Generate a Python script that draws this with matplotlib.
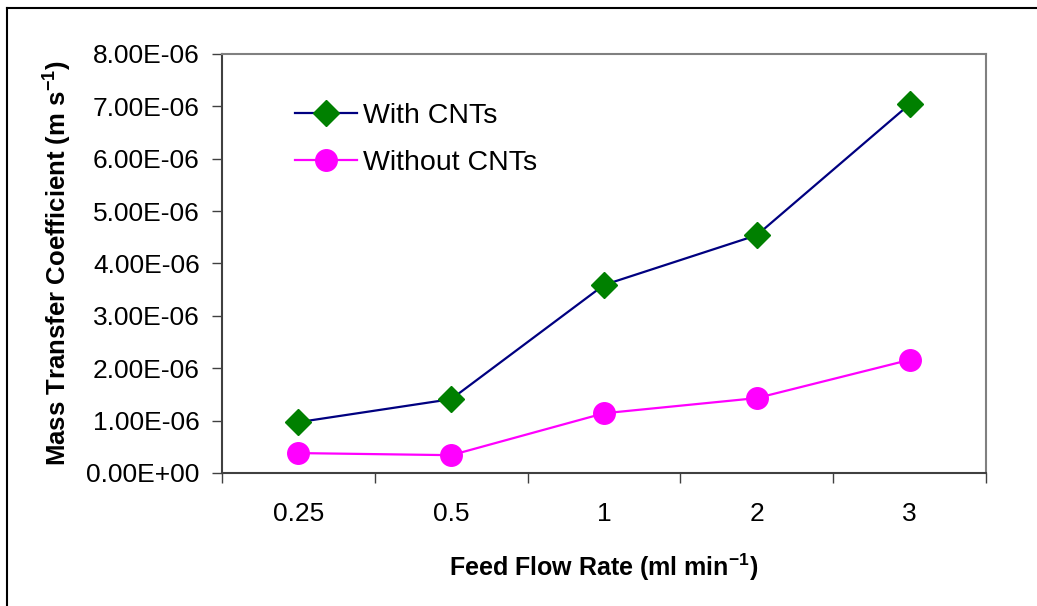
import matplotlib
matplotlib.use("Agg")
import matplotlib.pyplot as plt
from matplotlib.lines import Line2D
from matplotlib.ticker import FixedLocator, FuncFormatter
import numpy as np

plt.rcParams['font.family'] = ['Liberation Sans', 'DejaVu Sans']
plt.rcParams['mathtext.fontset'] = 'custom'
plt.rcParams['mathtext.rm'] = 'Liberation Sans:bold'
plt.rcParams['mathtext.bf'] = 'Liberation Sans:bold'
plt.rcParams['mathtext.default'] = 'bf'

# Feed flow rates (ml/min) and mass transfer coefficients (m/s)
flow_rates = ['0.25', '0.5', '1', '2', '3']
with_cnts = [0.97e-6, 1.41e-6, 3.59e-6, 4.54e-6, 7.04e-6]
without_cnts = [0.38e-6, 0.34e-6, 1.14e-6, 1.43e-6, 2.16e-6]

fig = plt.figure(figsize=(10.37, 6.06), dpi=100)
ax = fig.add_axes([0.2141, 0.2195, 0.7367, 0.6914])

x = np.arange(len(flow_rates))
ax.plot(x, with_cnts, color='#000080', lw=1.6, marker='D', ms=13,
        mfc='#008000', mec='#008000', label='With CNTs')
ax.plot(x, without_cnts, color='#FF00FF', lw=1.6, marker='o', ms=15.5,
        mfc='#FF00FF', mec='#FF00FF', label='Without CNTs')

ax.set_xlim(-0.5, len(flow_rates) - 0.5)
ax.set_ylim(0, 8e-6)

# y axis in Excel-like scientific format
ax.set_yticks(np.arange(0, 8.01e-6, 1e-6))
def sci_fmt(v, pos):
    if abs(v) < 1e-12:
        return '0.00E+00'
    m, e = f'{v:.2E}'.split('E')
    return f'{m}E{e}'
ax.yaxis.set_major_formatter(FuncFormatter(sci_fmt))

# category labels centred, ticks between categories
ax.set_xticks(x)
ax.set_xticklabels(flow_rates)
ax.xaxis.set_minor_locator(FixedLocator(np.arange(-0.5, len(flow_rates), 1.0)))
ax.tick_params(axis='x', which='major', length=0, pad=21, labelsize=19)
ax.tick_params(axis='x', which='minor', length=7, width=1, color='#404040', direction='out')
ax.tick_params(axis='y', length=7, width=1, color='#404040', direction='out',
               labelsize=19, pad=9)

for side in ['left', 'bottom']:
    ax.spines[side].set_color('#404040')
    ax.spines[side].set_linewidth(1.5)
for side in ['top', 'right']:
    ax.spines[side].set_color('#808080')
    ax.spines[side].set_linewidth(1.5)

ax.set_xlabel('Feed Flow Rate (ml min$^{-1}$)', fontsize=18, fontweight='bold', labelpad=18)
ax.set_ylabel('Mass Transfer Coefficient (m s$^{-1}$)', fontsize=18.5, fontweight='bold', labelpad=9)

ax.legend(loc='upper left', bbox_to_anchor=(0.08, 0.91), frameon=False, fontsize=20.5,
          handlelength=2.2, handletextpad=0.2, labelspacing=0.75, borderaxespad=0)

# outer chart frame (top and left edges)
fig.add_artist(Line2D([7 / 1037, 1], [1 - 8 / 606, 1 - 8 / 606], color='black', lw=1.5,
                      transform=fig.transFigure))
fig.add_artist(Line2D([7 / 1037, 7 / 1037], [0, 1 - 8 / 606], color='black', lw=1.5,
                      transform=fig.transFigure))

fig.savefig('out.png', dpi=100)
